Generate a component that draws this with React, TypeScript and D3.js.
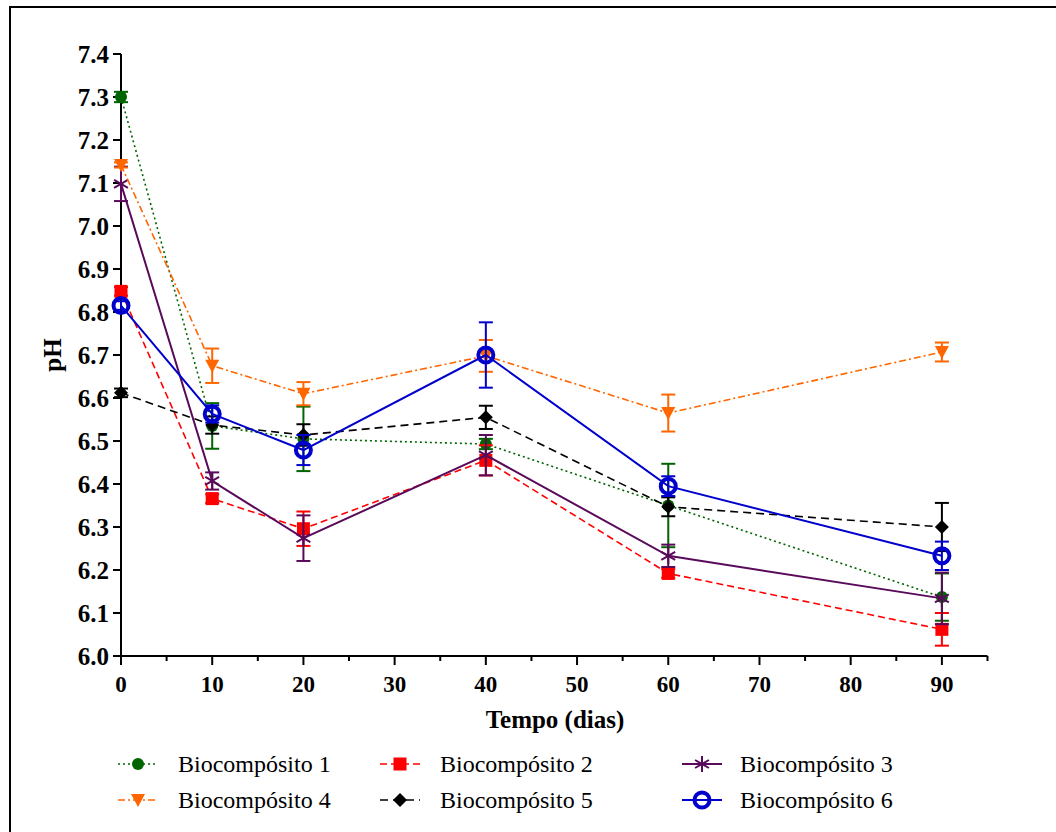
import React from "react";
import * as d3 from "d3";

const days = [0, 10, 20, 40, 60, 90];
const xTicks = [0, 10, 20, 30, 40, 50, 60, 70, 80, 90];
const xMinorTicks = [5, 15, 25, 35, 45, 55, 65, 75, 85, 95];
const yTicks = [6.0, 6.1, 6.2, 6.3, 6.4, 6.5, 6.6, 6.7, 6.8, 6.9, 7.0, 7.1, 7.2, 7.3, 7.4];

const names = [
  "Biocompósito 1",
  "Biocompósito 2",
  "Biocompósito 3",
  "Biocompósito 4",
  "Biocompósito 5",
  "Biocompósito 6",
];

const b1 = [7.3, 6.535, 6.505, 6.493, 6.35, 6.137];
const e1 = [0.012, 0.053, 0.075, 0.012, 0.097, 0.055];
const b2 = [6.848, 6.366, 6.296, 6.455, 6.192, 6.062];
const e2 = [0.01, 0.01, 0.04, 0.035, 0.01, 0.038];
const b3 = [7.098, 6.407, 6.274, 6.467, 6.233, 6.134];
const e3 = [0.04, 0.02, 0.053, 0.047, 0.026, 0.06];
const b4 = [7.142, 6.675, 6.61, 6.698, 6.565, 6.707];
const e4 = [0.006, 0.04, 0.027, 0.037, 0.043, 0.022];
const b5 = [6.612, 6.537, 6.514, 6.555, 6.347, 6.3];
const e5 = [0.01, 0.02, 0.025, 0.027, 0.022, 0.056];
const b6 = [6.815, 6.563, 6.479, 6.7, 6.395, 6.233];
const e6 = [0.01, 0.02, 0.035, 0.076, 0.023, 0.033];

const seriesValues = [b1, b2, b3, b4, b5, b6];
const seriesErrors = [e1, e2, e3, e4, e5, e6];

const styles = [
  { color: "#006400", dash: "2,3", width: 1.6, marker: "circle" },
  { color: "#ff0000", dash: "7,4", width: 1.6, marker: "square" },
  { color: "#5a0a5a", dash: "", width: 2, marker: "asterisk" },
  { color: "#ff6600", dash: "7,3,2,3", width: 1.6, marker: "triangle" },
  { color: "#000000", dash: "8,5", width: 1.6, marker: "diamond" },
  { color: "#0000cc", dash: "", width: 2, marker: "ring" },
];

const FONT = "'Liberation Serif', 'Times New Roman', serif";

function Marker({ type, x, y, color }: { type: string; x: number; y: number; color: string }) {
  if (type === "circle") return <circle cx={x} cy={y} r={6} fill={color} />;
  if (type === "square") return <rect x={x - 6.5} y={y - 6.5} width={13} height={13} fill={color} />;
  if (type === "triangle")
    return <path d={`M${x - 7},${y - 6} L${x + 7},${y - 6} L${x},${y + 7} Z`} fill={color} />;
  if (type === "diamond")
    return <path d={`M${x},${y - 7} L${x + 7},${y} L${x},${y + 7} L${x - 7},${y} Z`} fill={color} />;
  if (type === "ring") return <circle cx={x} cy={y} r={7.5} fill="none" stroke={color} strokeWidth={4} />;
  const r = 8;
  const angles = [90, 30, 150];
  return (
    <g stroke={color} strokeWidth={2}>
      {angles.map((a) => {
        const rad = (a * Math.PI) / 180;
        const dx = r * Math.cos(rad);
        const dy = r * Math.sin(rad);
        return <line key={a} x1={x - dx} y1={y - dy} x2={x + dx} y2={y + dy} />;
      })}
    </g>
  );
}

export default function App() {
  const x = d3.scaleLinear().domain([0, 95]).range([121, 987.5]);
  const y = d3.scaleLinear().domain([6.0, 7.4]).range([656, 54]);

  const legendPos = [
    { lx: 118, tx: 178, ly: 764 },
    { lx: 380, tx: 440, ly: 764 },
    { lx: 682, tx: 740, ly: 764 },
    { lx: 118, tx: 178, ly: 800 },
    { lx: 380, tx: 440, ly: 800 },
    { lx: 682, tx: 740, ly: 800 },
  ];

  return (
    <svg
      width={1056}
      height={832}
      style={{ position: "absolute", left: 0, top: 0, display: "block", background: "#fff" }}
      fontFamily={FONT}
    >
      <rect x={0} y={0} width={1056} height={832} fill="#fff" />
      <path d="M10,840 L10,7 L1070,7" fill="none" stroke="#000" strokeWidth={2} />

      <line x1={x(0)} y1={y(6.0)} x2={x(95)} y2={y(6.0)} stroke="#000" strokeWidth={2} />
      <line x1={x(0)} y1={y(6.0)} x2={x(0)} y2={y(7.4)} stroke="#000" strokeWidth={2} />
      {yTicks.map((t) => (
        <g key={"y" + t}>
          <line x1={x(0) - 8} x2={x(0)} y1={y(t)} y2={y(t)} stroke="#000" strokeWidth={2} />
          <text
            x={x(0) - 12}
            y={y(t)}
            dy="0.35em"
            textAnchor="end"
            fontWeight="bold"
            fontSize={25}
          >
            {t.toFixed(1)}
          </text>
        </g>
      ))}
      {xTicks.map((t) => (
        <g key={"x" + t}>
          <line x1={x(t)} x2={x(t)} y1={y(6.0)} y2={y(6.0) + 9} stroke="#000" strokeWidth={2} />
          <text x={x(t)} y={y(6.0) + 36} textAnchor="middle" fontWeight="bold" fontSize={23}>
            {t}
          </text>
        </g>
      ))}
      {xMinorTicks.map((t) => (
        <line key={"m" + t} x1={x(t)} x2={x(t)} y1={y(6.0)} y2={y(6.0) + 5} stroke="#000" strokeWidth={2} />
      ))}
      <text x={555} y={728} textAnchor="middle" fontWeight="bold" fontSize={25}>
        Tempo (dias)
      </text>
      <text
        transform={`translate(61,355) rotate(-90)`}
        textAnchor="middle"
        fontWeight="bold"
        fontSize={25}
      >
        pH
      </text>

      {seriesValues.map((vals, si) => {
        const st = styles[si];
        const line = d3
          .line<number>()
          .x((_, i) => x(days[i]))
          .y((v) => y(v));
        return (
          <g key={"s" + si}>
            <path
              d={line(vals) || ""}
              fill="none"
              stroke={st.color}
              strokeWidth={st.width}
              strokeDasharray={st.dash}
            />
            {vals.map((v, i) => {
              const e = seriesErrors[si][i];
              const cx = x(days[i]);
              return (
                <g key={i} stroke={st.color} strokeWidth={2}>
                  <line x1={cx} x2={cx} y1={y(v + e)} y2={y(v - e)} />
                  <line x1={cx - 7} x2={cx + 7} y1={y(v + e)} y2={y(v + e)} />
                  <line x1={cx - 7} x2={cx + 7} y1={y(v - e)} y2={y(v - e)} />
                </g>
              );
            })}
            {vals.map((v, i) => (
              <Marker key={"mk" + i} type={st.marker} x={x(days[i])} y={y(v)} color={st.color} />
            ))}
          </g>
        );
      })}

      {names.map((n, i) => {
        const p = legendPos[i];
        const st = styles[i];
        return (
          <g key={"l" + i}>
            <line
              x1={p.lx}
              x2={p.lx + 40}
              y1={p.ly}
              y2={p.ly}
              stroke={st.color}
              strokeWidth={st.width}
              strokeDasharray={st.dash}
            />
            <Marker type={st.marker} x={p.lx + 20} y={p.ly} color={st.color} />
            <text x={p.tx} y={p.ly + 8} fontSize={24}>
              {n}
            </text>
          </g>
        );
      })}
    </svg>
  );
}
